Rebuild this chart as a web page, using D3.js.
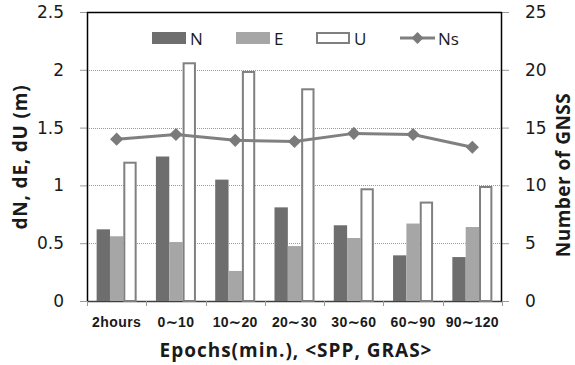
<!DOCTYPE html>
<html>
<head>
<meta charset="utf-8">
<script src="https://cdn.jsdelivr.net/npm/d3@7"></script>
<style>
  body { margin: 0; background: #fff; }
  svg { display: block; font-family: "Open Sans", "Noto Sans CJK KR", sans-serif; }
</style>
</head>
<body>
<div id="chart"></div>
<script>
// categories and series
var categories = ["2hours", "0\u223C10", "10\u223C20", "20\u223C30", "30\u223C60", "60\u223C90", "90\u223C120"];
var dN = [0.62, 1.25, 1.05, 0.81, 0.655, 0.395, 0.38];
var dE = [0.56, 0.51, 0.26, 0.475, 0.545, 0.67, 0.64];
var dU = [1.205, 2.065, 1.99, 1.84, 0.975, 0.86, 0.995];
var Ns = [14.0, 14.4, 13.9, 13.8, 14.5, 14.4, 13.3];
var leftTicks = [0, 0.5, 1, 1.5, 2, 2.5];
var rightTicks = [0, 5, 10, 15, 20, 25];

var W = 575, H = 365;
var margin = { top: 12, right: 73, bottom: 64, left: 87 };
var width = W - margin.left - margin.right;
var height = H - margin.top - margin.bottom;

var svg = d3.select("#chart").append("svg")
    .attr("width", W).attr("height", H);
var g = svg.append("g")
    .attr("transform", "translate(" + margin.left + "," + margin.top + ")");

var x = d3.scaleBand().domain(categories).range([0, width]);
var y = d3.scaleLinear().domain([0, 2.5]).range([height, 0]);
var y2 = d3.scaleLinear().domain([0, 25]).range([height, 0]);

var series = [
    { key: "N", values: dN, fill: "#6e6e6e", stroke: "none" },
    { key: "E", values: dE, fill: "#a6a6a6", stroke: "none" },
    { key: "U", values: dU, fill: "#ffffff", stroke: "#808080" }
];
var groupW = x.bandwidth() * 0.675;
var xs = d3.scaleBand().domain(series.map(function (s) { return s.key; }))
    .range([(x.bandwidth() - groupW) / 2, (x.bandwidth() + groupW) / 2]);

// gridlines
g.append("g").selectAll("line")
    .data(leftTicks.filter(function (d) { return d > 0 && d < 2.5; }))
    .enter().append("line")
    .attr("x1", 0).attr("x2", width)
    .attr("y1", function (d) { return Math.round(y(d)) + 0.5; })
    .attr("y2", function (d) { return Math.round(y(d)) + 0.5; })
    .attr("stroke", "#9a9a9a").attr("stroke-dasharray", "1,1");

// x axis line (under the bars)
g.append("line").attr("x1", 0).attr("x2", width).attr("y1", height + 0.5).attr("y2", height + 0.5)
    .attr("stroke", "#404040").attr("stroke-width", 1.5);

// bars
series.forEach(function (s) {
    var inset = s.stroke === "none" ? 0 : 1;
    g.append("g").selectAll("rect")
        .data(s.values)
        .enter().append("rect")
        .attr("x", function (d, i) { return x(categories[i]) + xs(s.key) + inset; })
        .attr("y", function (d) { return y(d) + inset; })
        .attr("width", xs.bandwidth() - 2 * inset)
        .attr("height", function (d) { return height - y(d) - inset; })
        .attr("fill", s.fill)
        .attr("stroke", s.stroke)
        .attr("stroke-width", 2);
});

// axes
var tickFont = "\"DejaVu Sans\", sans-serif";
var gl = g.append("g").call(d3.axisLeft(y).tickValues(leftTicks).tickSize(7).tickPadding(16)
    .tickFormat(function (d) { return d; }));
gl.select(".domain").remove();
gl.selectAll(".tick line").attr("stroke", "#999");
gl.selectAll("text").style("font-size", "17px").style("font-family", tickFont).attr("fill", "#1a1a1a");

var gr = g.append("g").attr("transform", "translate(" + width + ",0)")
    .call(d3.axisRight(y2).tickValues(rightTicks).tickSize(7).tickPadding(16));
gr.select(".domain").remove();
gr.selectAll(".tick line").attr("stroke", "#999");
gr.selectAll("text").style("font-size", "17px").style("font-family", tickFont).attr("fill", "#1a1a1a");

var gx = g.append("g").attr("transform", "translate(0," + height + ")")
    .call(d3.axisBottom(x).tickSize(0).tickPadding(16));
gx.select(".domain").remove();
gx.selectAll("text").style("font-size", "14px").style("font-weight", "bold")
    .style("letter-spacing", "0.4px").attr("fill", "#1a1a1a");
// tick marks between categories
g.append("g").selectAll("line")
    .data(categories.concat(["end"]))
    .enter().append("line")
    .attr("x1", function (d, i) { return Math.round(i * x.bandwidth()) + 0.5; })
    .attr("x2", function (d, i) { return Math.round(i * x.bandwidth()) + 0.5; })
    .attr("y1", height).attr("y2", height + 5)
    .attr("stroke", "#999");

// frame
g.append("path")
    .attr("d", "M0.5," + height + "V0.5H" + (width - 0.5) + "V" + height)
    .attr("fill", "none").attr("stroke", "#000").attr("stroke-width", 1.5);

// Ns line
var cx = function (d, i) { return x(categories[i]) + x.bandwidth() / 2; };
g.append("path")
    .datum(Ns)
    .attr("fill", "none").attr("stroke", "#808080").attr("stroke-width", 3)
    .attr("d", d3.line().x(cx).y(function (d) { return y2(d); }));
g.append("g").selectAll("path")
    .data(Ns)
    .enter().append("path")
    .attr("d", d3.symbol().type(d3.symbolDiamond2).size(110))
    .attr("transform", function (d, i) { return "translate(" + cx(d, i) + "," + y2(d) + ")"; })
    .attr("fill", "#7a7a7a");

// legend
var lg = svg.append("g");
var legendItems = [
    { key: "N", x: 152, type: "bar", fill: "#6e6e6e", stroke: "none" },
    { key: "E", x: 236, type: "bar", fill: "#a6a6a6", stroke: "none" },
    { key: "U", x: 316, type: "bar", fill: "#ffffff", stroke: "#808080" },
    { key: "Ns", x: 400, type: "line" }
];
legendItems.forEach(function (it) {
    if (it.type === "bar") {
        lg.append("rect").attr("x", it.x + (it.stroke === "none" ? 0 : 1)).attr("y", it.stroke === "none" ? 32 : 33)
            .attr("width", it.stroke === "none" ? 34 : 32).attr("height", it.stroke === "none" ? 12 : 10)
            .attr("fill", it.fill).attr("stroke", it.stroke).attr("stroke-width", 2);
    } else {
        lg.append("line").attr("x1", it.x).attr("x2", it.x + 35).attr("y1", 38).attr("y2", 38)
            .attr("stroke", "#808080").attr("stroke-width", 3);
        lg.append("path").attr("d", d3.symbol().type(d3.symbolDiamond2).size(90))
            .attr("transform", "translate(" + (it.x + 17.5) + ",38)").attr("fill", "#7a7a7a");
    }
    lg.append("text").attr("x", it.x + 38).attr("y", 45)
        .style("font-size", "17px").attr("fill", "#1a1a1a").text(it.key);
});

// titles
svg.append("text")
    .attr("transform", "translate(27,157) rotate(-90)")
    .attr("text-anchor", "middle")
    .style("font-size", "19px").style("font-weight", "bold").style("letter-spacing", "0.8px")
    .attr("fill", "#1a1a1a")
    .text("dN, dE, dU (m)");
svg.append("text")
    .attr("transform", "translate(570,175) rotate(-90)")
    .attr("text-anchor", "middle")
    .style("font-size", "19px").style("font-weight", "bold").style("letter-spacing", "0.5px")
    .attr("fill", "#1a1a1a")
    .text("Number of GNSS");
svg.append("text")
    .attr("x", 296).attr("y", 357)
    .attr("text-anchor", "middle")
    .style("font-size", "19px").style("font-weight", "bold").style("letter-spacing", "1px")
    .attr("fill", "#1a1a1a")
    .text("Epochs(min.), <SPP, GRAS>");
</script>
</body>
</html>
